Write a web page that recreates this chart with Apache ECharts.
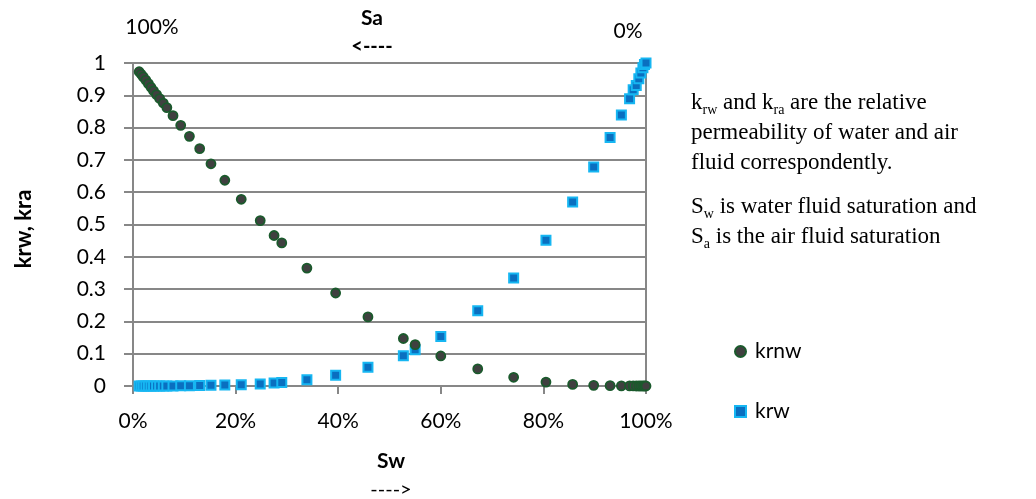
<!DOCTYPE html>
<html>
<head>
<meta charset="utf-8">
<script src="https://cdn.jsdelivr.net/npm/echarts@6/dist/echarts.min.js"></script>
<style>
  html, body { margin: 0; padding: 0; background: #fff; }
  #chart { width: 1036px; height: 499px; }
</style>
</head>
<body>
<div id="chart"></div>
<script>
// Water saturation Sw (%) shared by both curves
const sw = [1.2, 1.6, 2.0, 2.5, 3.0, 3.5, 4.0, 4.6, 5.2, 5.9, 6.6, 7.8, 9.3, 11.0, 13.0, 15.2,
  17.9, 21.1, 24.8, 27.5, 29.0, 33.9, 39.5, 45.8, 52.7, 55.0, 60.0, 67.2, 74.2, 80.5, 85.7,
  89.8, 93.0, 95.2, 96.8, 97.5, 98.1, 98.6, 99.0, 99.4, 99.7, 100];

// Relative permeability of the non-wetting (air) phase
const krnw = [0.973, 0.965, 0.957, 0.947, 0.936, 0.925, 0.914, 0.902, 0.890, 0.876, 0.862,
  0.837, 0.807, 0.773, 0.735, 0.688, 0.637, 0.578, 0.512, 0.466, 0.443, 0.365, 0.288, 0.214,
  0.147, 0.128, 0.093, 0.053, 0.027, 0.012, 0.005, 0.002, 0.001, 0.0004, 0.0002, 0.0001,
  0, 0, 0, 0, 0, 0];

// Relative permeability of water
const krw = [0, 0, 0, 0, 0, 0, 0, 0, 0, 0, 0, 0.0002, 0.0004, 0.0008, 0.0015, 0.002, 0.003,
  0.004, 0.006, 0.009, 0.011, 0.0195, 0.033, 0.058, 0.094, 0.112, 0.153, 0.233, 0.334, 0.451,
  0.570, 0.678, 0.769, 0.839, 0.889, 0.917, 0.930, 0.951, 0.969, 0.985, 0.995, 1.0];

const seriesNames = ['krnw', 'krw'];

const pairs = (ys) => sw.map((x, i) => [x, ys[i]]);

const axisFont = 'Lato, "Open Sans", sans-serif';
const noteFont = '"Liberation Serif", "DejaVu Serif", serif';
const gridGray = '#878787';

const noteRich = {
  n: { fontFamily: noteFont, fontSize: 23, color: '#000', lineHeight: 30 },
  s: { fontFamily: noteFont, fontSize: 14, color: '#000', lineHeight: 20, verticalAlign: 'bottom' }
};

const centered = (x, y, text, bold, size) => ({
  type: 'text', x, y,
  style: {
    text, fontFamily: axisFont, fontWeight: bold ? 'bold' : 'normal', fontSize: size || 20,
    fill: '#000', align: 'center', verticalAlign: 'middle'
  }
});

const chart = echarts.init(document.getElementById('chart'), null, { renderer: 'canvas' });

chart.setOption({
  animation: false,
  backgroundColor: '#fff',
  grid: {
    left: 133, right: 390, top: 63, bottom: 113,
    show: true, borderColor: gridGray, borderWidth: 2
  },
  xAxis: {
    type: 'value', min: 0, max: 100, interval: 20,
    axisLine: { show: true, onZero: false, lineStyle: { color: gridGray, width: 2 } },
    axisTick: { show: true, length: 8, lineStyle: { color: gridGray, width: 2 } },
    splitLine: { show: false },
    axisLabel: { formatter: '{value}%', fontFamily: axisFont, fontSize: 21, color: '#000', margin: 25 }
  },
  yAxis: {
    type: 'value', min: 0, max: 1, interval: 0.1,
    axisLine: { show: true, lineStyle: { color: gridGray, width: 2 } },
    axisTick: { show: true, length: 9, lineStyle: { color: gridGray, width: 2 } },
    splitLine: { show: true, lineStyle: { color: gridGray, width: 2 } },
    axisLabel: {
      formatter: (v) => String(Math.round(v * 10) / 10),
      fontFamily: axisFont, fontSize: 21, color: '#000', margin: 27
    }
  },
  legend: {
    orient: 'vertical', left: 729, top: 336, itemGap: 39,
    itemWidth: 11, itemHeight: 11,
    textStyle: { fontFamily: axisFont, fontSize: 21, color: '#000', padding: [0, 0, 0, 4] },
    data: seriesNames
  },
  series: [
    {
      name: seriesNames[0], type: 'scatter', symbol: 'circle', symbolSize: 9,
      itemStyle: { color: '#404040', borderColor: '#1a5a2c', borderWidth: 1.8, opacity: 1 },
      data: pairs(krnw), z: 3
    },
    {
      name: seriesNames[1], type: 'scatter', symbol: 'rect', symbolSize: 9,
      itemStyle: { color: '#0a6fc0', borderColor: '#16b6f2', borderWidth: 2, opacity: 1 },
      data: pairs(krw), z: 2
    }
  ],
  graphic: [
    centered(152, 27, '100%', false, 21),
    centered(628, 31, '0%', false, 21),
    centered(372, 18, 'Sa', true, 21),
    centered(372, 47, '<----', true, 20),
    centered(391, 461, 'Sw', true, 21),
    centered(391, 490, '---->', false, 20),
    Object.assign(centered(24, 229, 'krw, kra', true, 22), { rotation: Math.PI / 2 }),
    {
      type: 'text', left: 691, top: 91,
      style: {
        text: '{n|k}{s|rw}{n| and k}{s|ra}{n| are the relative}\n{n|permeability of water and air}\n{n|fluid correspondently.}',
        rich: noteRich
      }
    },
    {
      type: 'text', left: 691, top: 195,
      style: {
        text: '{n|S}{s|w}{n| is water fluid saturation and}\n{n|S}{s|a}{n| is the air fluid saturation}',
        rich: noteRich
      }
    }
  ]
});
</script>
</body>
</html>
